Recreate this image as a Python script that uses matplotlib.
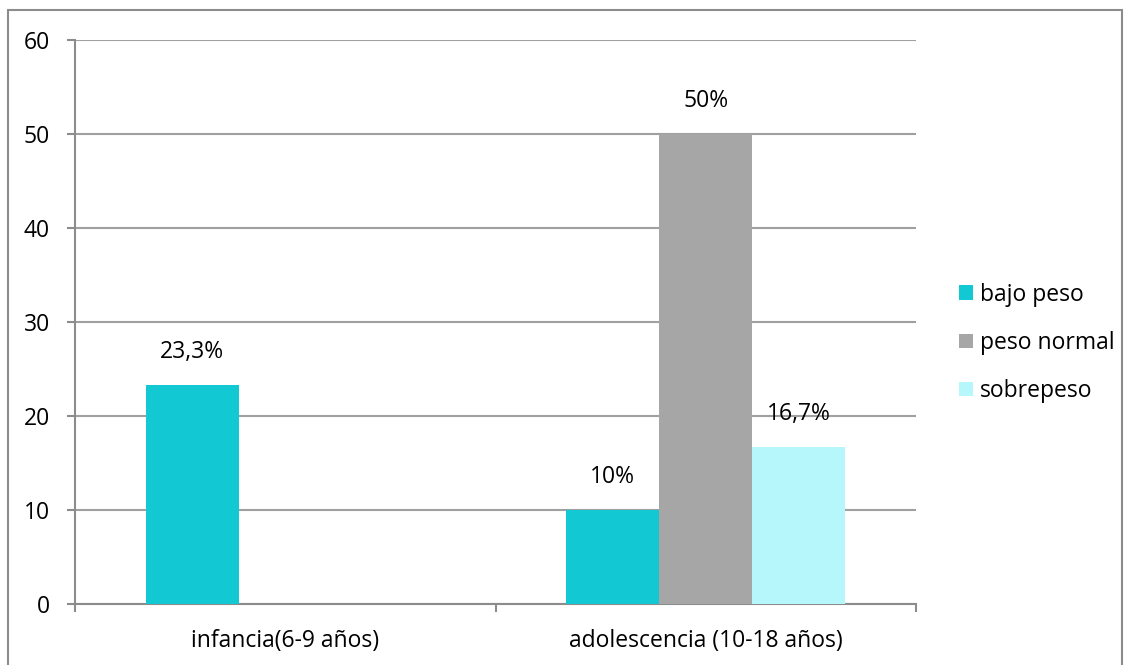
import numpy as np
import matplotlib.pyplot as plt
from matplotlib.patches import Rectangle

plt.rcParams['font.family'] = ['Open Sans', 'DejaVu Sans']

categories = ['infancia(6-9 años)', 'adolescencia (10-18 años)']
series = ['bajo peso', 'peso normal', 'sobrepeso']
values = [
    [23.3, 10],
    [np.nan, 50],
    [np.nan, 16.7],
]
labels = [
    ['23,3%', '10%'],
    [None, '50%'],
    [None, '16,7%'],
]
colors = ['#12C8D3', '#A6A6A6', '#B6F7FB']

fs = 16.5

fig = plt.figure(figsize=(11.31, 6.65), dpi=100)
ax = fig.add_axes([75/1131, 1 - 604/665, (916-75)/1131, (604-40)/665])

# outer border
fig.patches.append(Rectangle((8/1131, -0.05), (1122-8)/1131, 1 - 10/665 + 0.05,
                             transform=fig.transFigure, fill=False,
                             edgecolor='#8C8C8C', linewidth=1.5))

w = 0.221
x = np.arange(len(categories))
for i, (s, c) in enumerate(zip(series, colors)):
    xs = x + (i - 1) * w
    ax.bar(xs, values[i], width=w, color=c, label=s, zorder=3)
    for xx, v, lab in zip(xs, values[i], labels[i]):
        if lab is not None and not np.isnan(v):
            ax.annotate(lab, (xx, v), xytext=(0, 33), textcoords='offset pixels',
                        ha='center', va='center', fontsize=fs)

ax.set_xlim(-0.5, 1.5)
ax.set_ylim(0, 60)
ax.set_yticks(range(0, 61, 10))
ax.yaxis.grid(True, color='#A0A0A0', linewidth=1.5, zorder=0)
ax.set_axisbelow(True)

ax.set_xticks([-0.5, 0.5, 1.5])
ax.set_xticklabels([])
ax.set_xticks(x, minor=True)
ax.set_xticklabels(categories, minor=True)
ax.tick_params(axis='x', which='minor', length=0, pad=18, labelsize=fs)
ax.tick_params(axis='x', which='major', length=6, color='#8C8C8C', width=1.5)
ax.tick_params(axis='y', length=6, color='#8C8C8C', width=1.5, labelsize=fs, pad=12)

for side in ['top', 'right']:
    ax.spines[side].set_visible(False)
for side in ['left', 'bottom']:
    ax.spines[side].set_color('#8C8C8C')
    ax.spines[side].set_linewidth(1.5)

ax.legend(loc='center left', bbox_to_anchor=(1.027, 0.463), frameon=False,
          fontsize=fs, handlelength=0.6, handleheight=0.6, labelspacing=1.05,
          handletextpad=0.3)

fig.savefig('out.png', dpi=100)
